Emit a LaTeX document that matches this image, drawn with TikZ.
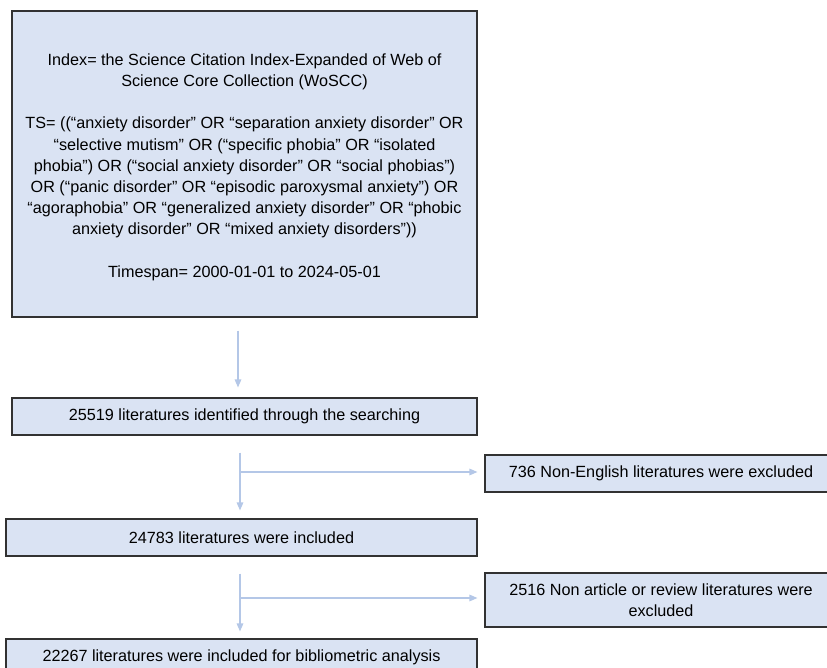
\documentclass[tikz,border=0pt]{standalone}
\usepackage{fontspec}
\setmainfont{Liberation Sans}
\usetikzlibrary{arrows.meta}
\definecolor{boxfill}{RGB}{218,227,243}
\definecolor{boxline}{RGB}{50,50,50}
\definecolor{arrcol}{RGB}{180,199,231}
\begin{document}
\begin{tikzpicture}[x=1pt,y=-1pt,
  box/.style={draw=boxline,line width=1.1pt,fill=boxfill,inner sep=0pt,
    font=\fontsize{16.2}{21.2}\selectfont,align=center},
  arr/.style={draw=arrcol,line width=1.3pt,-{Triangle[length=8pt,width=6.5pt]}},
  conn/.style={draw=arrcol,line width=1.3pt}]
\useasboundingbox (0,0) rectangle (827,668);
\clip (0,0) rectangle (827,668);
\fill[white] (0,0) rectangle (827,668);
\node[box,minimum width=465pt,minimum height=306pt] (top) at (244.5,164) {%
\rule{0pt}{18pt}Index= the Science Citation Index-Expanded of Web of\\
Science Core Collection (WoSCC)\\[21.2pt]
TS= ((“anxiety disorder” OR “separation anxiety disorder” OR\\
“selective mutism” OR (“specific phobia” OR “isolated\\
phobia”) OR (“social anxiety disorder” OR “social phobias”)\\
OR (“panic disorder” OR “episodic paroxysmal anxiety”) OR\\
“agoraphobia” OR “generalized anxiety disorder” OR “phobic\\
anxiety disorder” OR “mixed anxiety disorders”))\\[21.2pt]
Timespan= 2000-01-01 to 2024-05-01};
\node[box,minimum width=465pt,minimum height=37pt] (b2) at (244.5,416.5) {25519 literatures identified through the searching};
\node[box,minimum width=352pt,minimum height=37pt] (e1) at (661,473.5) {736 Non-English literatures were excluded};
\node[box,minimum width=471pt,minimum height=37pt] (b3) at (241.5,537.5) {24783 literatures were included};
\node[box,minimum width=352pt,minimum height=54pt] (e2) at (661,600) {2516 Non article or review literatures were\\excluded};
\node[box,minimum width=471pt,minimum height=37pt] (b4) at (241.5,657.5) {22267 literatures were included for bibliometric analysis};
\draw[arr,shorten <=13pt,shorten >=10pt] ([xshift=-6.5pt]top.south) -- ([xshift=-6.5pt]b2.north);
\coordinate (j1) at (240,472);
\draw[arr,shorten <=17pt,shorten >=8pt] (j1 |- b2.south) -- (j1 |- b3.north);
\draw[arr,shorten >=7pt] (j1) -- (j1 -| e1.west);
\coordinate (j2) at (240,598);
\draw[arr,shorten <=17pt,shorten >=7pt] (j2 |- b3.south) -- (j2 |- b4.north);
\draw[arr,shorten >=7pt] (j2) -- (j2 -| e2.west);
\end{tikzpicture}
\end{document}
